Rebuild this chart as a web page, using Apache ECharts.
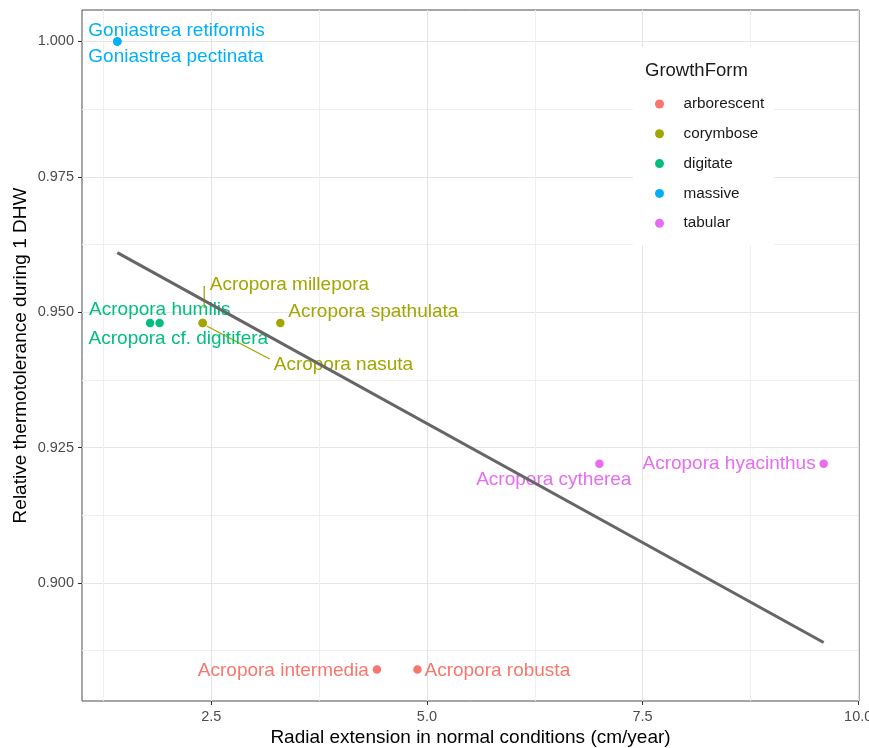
<!DOCTYPE html>
<html>
<head>
<meta charset="utf-8">
<script src="https://cdn.jsdelivr.net/npm/echarts@6/dist/echarts.min.js"></script>
<style>
html, body { margin: 0; padding: 0; background: #fff; }
#chart { width: 869px; height: 748px; }
</style>
</head>
<body>
<div id="chart"></div>
<script>
// Coral species: radial extension vs. relative thermotolerance
const species = ['Goniastrea retiformis', 'Goniastrea pectinata', 'Acropora humilis', 'Acropora cf. digitifera',
  'Acropora millepora', 'Acropora nasuta', 'Acropora spathulata', 'Acropora intermedia', 'Acropora robusta',
  'Acropora cytherea', 'Acropora hyacinthus'];
const growthForm = ['massive', 'massive', 'digitate', 'digitate', 'corymbose', 'corymbose', 'corymbose',
  'arborescent', 'arborescent', 'tabular', 'tabular'];
const radialExtension = [1.41, 1.41, 1.79, 1.90, 2.40, 2.40, 3.30, 4.42, 4.89, 7.00, 9.60];
const thermotolerance = [1.000, 1.000, 0.948, 0.948, 0.948, 0.948, 0.948, 0.884, 0.884, 0.922, 0.922];

const forms = ['arborescent', 'corymbose', 'digitate', 'massive', 'tabular'];
const formColors = ['#F8766D', '#A3A500', '#00BF7D', '#00B0F6', '#E76BF3'];

// fitted linear trend, end points
const fitX = [1.41, 9.60];
const fitY = [0.961, 0.889];

const xTicks = [2.5, 5.0, 7.5, 10.0];
const yTicks = [0.900, 0.925, 0.950, 0.975, 1.000];
const xMinor = [1.25, 3.75, 6.25, 8.75];
const yMinor = [0.8875, 0.9125, 0.9375, 0.9625, 0.9875];

// text label placement: [align, dx, dy] in pixels from the point
const labelPlacement = {
  'Goniastrea retiformis': ['left', -29, -11],
  'Goniastrea pectinata': ['left', -29, 15],
  'Acropora humilis': ['left', -61, -13],
  'Acropora cf. digitifera': ['left', -71, 16],
  'Acropora millepora': ['left', 7, -38],
  'Acropora nasuta': ['left', 71, 42],
  'Acropora spathulata': ['left', 8, -11],
  'Acropora intermedia': ['right', -8, 1],
  'Acropora robusta': ['left', 7, 1],
  'Acropora cytherea': ['right', 32, 16],
  'Acropora hyacinthus': ['right', -8, 0]
};
// guide segments from point towards displaced labels: [[dx1, dy1], [dx2, dy2]]
const guideSegments = {
  'Acropora millepora': [[1.5, -15], [1.5, -37]],
  'Acropora nasuta': [[4, 3], [67, 36]]
};

// axis extents with 5% padding around the data range
function padded(vals) {
  const lo = Math.min(...vals), hi = Math.max(...vals), d = hi - lo;
  return [lo - 0.05 * d, hi + 0.05 * d];
}
const xExt = padded(radialExtension);
const yExt = padded(thermotolerance);

const FONT = 'Liberation Sans';

const scatterSeries = forms.map((form, fi) => {
  const data = [];
  species.forEach((sp, i) => {
    if (growthForm[i] !== form) return;
    const lp = labelPlacement[sp];
    data.push({
      name: sp,
      value: [radialExtension[i], thermotolerance[i]],
      label: { align: lp[0], offset: [lp[1], lp[2]] }
    });
  });
  return {
    name: form,
    type: 'scatter',
    symbol: 'circle',
    symbolSize: 8.5,
    z: 3,
    itemStyle: { color: formColors[fi], opacity: 1 },
    label: {
      show: true,
      position: 'inside',
      verticalAlign: 'middle',
      formatter: '{b}',
      color: formColors[fi],
      fontSize: 19,
      fontFamily: FONT
    },
    emphasis: { disabled: true },
    data: data
  };
});

const guideData = species
  .map((sp, i) => [radialExtension[i], thermotolerance[i], i])
  .filter(d => guideSegments[species[d[2]]]);

const chart = echarts.init(document.getElementById('chart'), null, { renderer: 'canvas' });

chart.setOption({
  animation: false,
  backgroundColor: '#ffffff',
  textStyle: { fontFamily: FONT },
  grid: {
    left: 82, right: 10, top: 10, bottom: 47,
    outerBoundsMode: 'none',
    containLabel: false,
    show: true, borderColor: '#4d4d4d', borderWidth: 1, backgroundColor: 'transparent'
  },
  xAxis: [{
    type: 'value',
    min: xExt[0], max: xExt[1],
    axisLine: { show: false },
    axisTick: { show: true, length: 4, customValues: xTicks, lineStyle: { color: '#333', width: 1 } },
    axisLabel: { customValues: xTicks, formatter: v => v.toFixed(1), color: '#4d4d4d', fontSize: 14.5, margin: 8 },
    splitLine: { show: true, lineStyle: { color: '#e5e5e5', width: 1.1 } },
    name: 'Radial extension in normal conditions (cm/year)',
    nameLocation: 'middle',
    nameMoveOverlap: false,
    nameGap: 27,
    nameTextStyle: { fontSize: 19, color: '#000' }
  }, {
    type: 'value',
    min: xExt[0], max: xExt[1],
    position: 'bottom',
    axisLine: { show: false },
    axisTick: { show: false, customValues: xMinor },
    axisLabel: { show: false, customValues: xMinor },
    splitLine: { show: true, lineStyle: { color: '#efefef', width: 1 } }
  }],
  yAxis: [{
    type: 'value',
    min: yExt[0], max: yExt[1],
    axisLine: { show: false },
    axisTick: { show: true, length: 4, customValues: yTicks, lineStyle: { color: '#333', width: 1 } },
    axisLabel: { customValues: yTicks, formatter: v => v.toFixed(3), color: '#4d4d4d', fontSize: 14.5, margin: 8 },
    splitLine: { show: true, lineStyle: { color: '#e5e5e5', width: 1.1 } },
    name: 'Relative thermotolerance during 1 DHW',
    nameLocation: 'middle',
    nameMoveOverlap: false,
    nameGap: 52,
    nameTextStyle: { fontSize: 19, color: '#000' }
  }, {
    type: 'value',
    min: yExt[0], max: yExt[1],
    position: 'left',
    axisLine: { show: false },
    axisTick: { show: false, customValues: yMinor },
    axisLabel: { show: false, customValues: yMinor },
    splitLine: { show: true, lineStyle: { color: '#efefef', width: 1 } }
  }],
  legend: {
    data: forms,
    orient: 'vertical',
    left: 633, top: 47,
    padding: [49, 10, 14, 22],
    backgroundColor: '#ffffff',
    icon: 'circle',
    itemWidth: 38, itemHeight: 9, itemGap: 13.8,
    selectedMode: false,
    textStyle: { fontSize: 15.3, color: '#1a1a1a', lineHeight: 16, fontFamily: FONT }
  },
  graphic: [{
    type: 'text',
    left: 645, top: 61,
    z: 100,
    style: { text: 'GrowthForm', font: '18.5px "Liberation Sans"', fill: '#1a1a1a' }
  }],
  series: [
    ...scatterSeries,
    {
      type: 'custom',
      z: 2,
      silent: true,
      renderItem: (params, api) => {
        const p = api.coord([api.value(0), api.value(1)]);
        const seg = guideSegments[species[api.value(2)]];
        return {
          type: 'line',
          shape: { x1: p[0] + seg[0][0], y1: p[1] + seg[0][1], x2: p[0] + seg[1][0], y2: p[1] + seg[1][1] },
          style: { stroke: formColors[1], lineWidth: 1.3 }
        };
      },
      data: guideData
    },
    {
      type: 'line',
      z: 5,
      silent: true,
      symbol: 'none',
      lineStyle: { color: '#666666', width: 3 },
      data: fitX.map((x, i) => [x, fitY[i]])
    }
  ]
});
</script>
</body>
</html>
